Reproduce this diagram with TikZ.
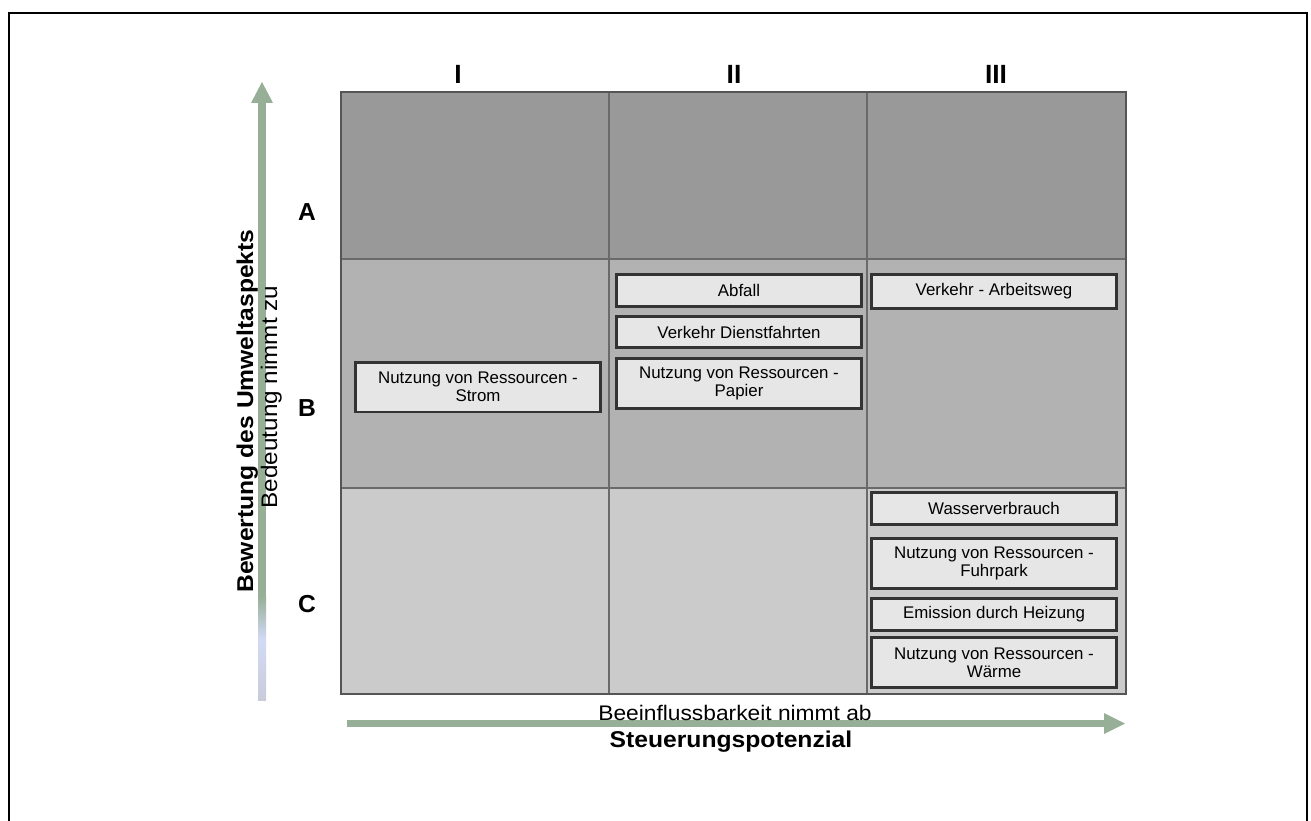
\documentclass[tikz,border=0pt]{standalone}
\usepackage{fontspec}
\setmainfont{Liberation Sans}
\newfontfamily\breitfont[FakeStretch=1.08]{Liberation Sans}
\definecolor{zeileA}{HTML}{999999}
\definecolor{zeileB}{HTML}{B2B2B2}
\definecolor{zeileC}{HTML}{CBCBCB}
\definecolor{boxfill}{HTML}{E6E6E6}
\definecolor{boxline}{HTML}{333333}
\definecolor{gitter}{HTML}{6A6A6A}
\definecolor{pfeilgruen}{HTML}{97AE97}
\definecolor{pfeilblau}{HTML}{D2DAF5}
\definecolor{pfeilgrau}{HTML}{C9CBDA}

\begin{document}
\begin{tikzpicture}[x=0.02cm,y=-0.02cm]
	\tikzstyle{aspekt}=[draw=boxline,line width=1.7pt,fill=boxfill,align=center,minimum width=4.9cm,inner sep=1pt,font=\fontsize{9.6}{10.4}\selectfont]
	\tikzstyle{klasse}=[font=\fontsize{15}{18}\selectfont\bfseries]
	\tikzstyle{stufe}=[font=\fontsize{14}{17}\selectfont\bfseries]
	\tikzstyle{achse}=[anchor=base,inner sep=0pt,font=\breitfont\fontsize{12}{14}\selectfont]
	\tikzstyle{titel}=[anchor=base,inner sep=0pt,font=\breitfont\fontsize{13}{15}\selectfont\bfseries]
	\tikzstyle{pfeil}=[fill=pfeilgruen]
	\useasboundingbox (0,0) rectangle (1311,821);
	\draw[line width=1.4pt] (9,821) -- (9,13) -- (1307,13) -- (1307,821);
	\fill[zeileA] (341,92) rectangle (1126,259);
	\fill[zeileB] (341,259) rectangle (1126,488);
	\fill[zeileC] (341,488) rectangle (1126,694);
	\draw[gitter,line width=0.6pt] (609,92) -- (609,694) (867,92) -- (867,694) (341,259) -- (1126,259) (341,488) -- (1126,488);
	\draw[gitter!80!black,line width=0.8pt] (341,92) rectangle (1126,694);
	\node[klasse] (I) at (458,74) {I};
	\node[klasse] (II) at (734,74) {II};
	\node[klasse] (III) at (996,74) {III};
	\node[stufe] (A) at (307,212) {A};
	\node[stufe] (B) at (307,408) {B};
	\node[stufe] (C) at (307,604) {C};
	\coordinate (vfuss) at (262,700);
	\coordinate (vspitze) at (262,82);
	\shade[bottom color=pfeilgrau,top color=pfeilblau] (258,700) rectangle (266,640);
	\shade[bottom color=pfeilblau,top color=pfeilgruen] (258,640) rectangle (266,596);
	\fill[pfeil] (258,597) rectangle (266,103);
	\fill[pfeil] (251,103) -- (vspitze) -- (273,103) -- cycle;
	\coordinate (hfuss) at (347,723.5);
	\coordinate (hspitze) at (1125,723.5);
	\fill[pfeil] (hfuss) ++(0,-3.5) rectangle (1104,727);
	\fill[pfeil] (1104,713) -- (hspitze) -- (1104,734) -- cycle;
	\node[titel,rotate=90] (bewertung) at (253,411) {Bewertung des Umweltaspekts};
	\node[achse,rotate=90,font=\breitfont\fontsize{12.8}{14}\selectfont] (bedeutung) at (277,397) {Bedeutung nimmt zu};
	\node[achse] (einfluss) at (735,720) {Beeinflussbarkeit nimmt ab};
	\node[titel] (steuerung) at (731,747) {Steuerungspotenzial};
	\node[aspekt,minimum height=1cm] (strom) at (478,387) {Nutzung von Ressourcen -\\Strom};
	\node[aspekt,minimum height=0.64cm] (abfall) at (739,290.5) {Abfall};
	\node[aspekt,minimum height=0.62cm] (dienst) at (739,332) {Verkehr Dienstfahrten};
	\node[aspekt,minimum height=1cm] (papier) at (739,383.5) {Nutzung von Ressourcen -\\Papier};
	\node[aspekt,minimum height=0.68cm] (arbeitsweg) at (994,291.5) {Verkehr - Arbeitsweg};
	\node[aspekt,minimum height=0.64cm] (wasser) at (994,508.5) {Wasserverbrauch};
	\node[aspekt,minimum height=1cm] (fuhrpark) at (994,563.5) {Nutzung von Ressourcen -\\Fuhrpark};
	\node[aspekt,minimum height=0.64cm] (heizung) at (994,614.5) {Emission durch Heizung};
	\node[aspekt,minimum height=1cm] (waerme) at (994,662.5) {Nutzung von Ressourcen -\\Wärme};
\end{tikzpicture}
\end{document}
